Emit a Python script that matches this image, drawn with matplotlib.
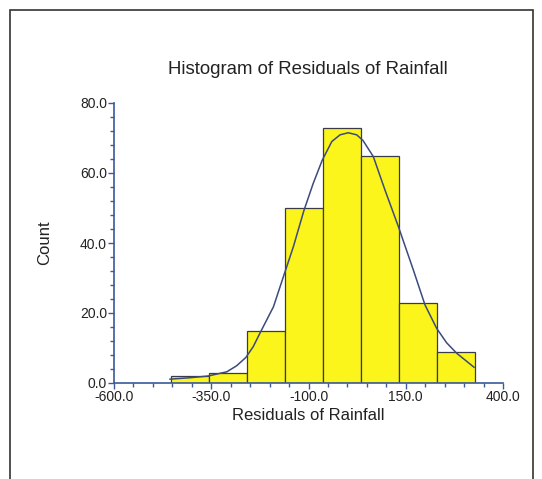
import matplotlib
matplotlib.use("Agg")
import matplotlib.pyplot as plt
from matplotlib.patches import Rectangle
from matplotlib.ticker import MultipleLocator, FormatStrFormatter

plt.rcParams['font.family'] = ['Liberation Sans', 'DejaVu Sans']

# Data
bin_edges = [-453, -355.5, -258, -160.5, -63, 34.5, 132, 229.5, 327]
counts = [2, 3, 15, 50, 73, 65, 23, 9]

curve_x = [-456, -405, -358, -310, -285, -261, -242, -225, -207.5, -190, -163, -139,
           -112, -88, -64.5, -40, -19, 2.3, 24, 40, 66.6, 96.7, 131, 169.5, 199.5,
           229.5, 255, 281, 325.5]
curve_y = [1.1, 1.5, 2.0, 3.2, 4.9, 7.3, 10.4, 14.2, 18.0, 21.8, 30.9, 38.9,
           49.2, 57.0, 63.7, 69.0, 70.9, 71.5, 70.9, 69.3, 64.7, 55.1, 44.7, 32.3, 22.3,
           15.6, 11.5, 8.5, 4.5]

x_ticks = [-600, -350, -100, 150, 400]
y_ticks = [0, 20, 40, 60, 80]

title = "Histogram of Residuals of Rainfall"
xlabel = "Residuals of Rainfall"
ylabel = "Count"

fig = plt.figure(figsize=(5.42, 4.79), dpi=100)
ax = fig.add_axes([114/542, 1-383/479, (503-114)/542, (383-103)/479])

axis_col = '#3b5a9a'
txt_col = '#222222'
widths = [bin_edges[i+1]-bin_edges[i] for i in range(len(counts))]
ax.bar(bin_edges[:-1], counts, width=widths, align='edge', color='#fbf51c',
       edgecolor='#3a3a4a', linewidth=0.9, zorder=2)

ax.plot(curve_x, curve_y, color='#3c4a7c', linewidth=1.1, zorder=3,
        solid_joinstyle='round')

ax.set_xlim(-600, 400)
ax.set_ylim(0, 80)
ax.set_xticks(x_ticks)
ax.set_yticks(y_ticks)
ax.xaxis.set_minor_locator(MultipleLocator(50))
ax.yaxis.set_minor_locator(MultipleLocator(4))
ax.xaxis.set_major_formatter(FormatStrFormatter('%.1f'))
ax.yaxis.set_major_formatter(FormatStrFormatter('%.1f'))

for s in ['top', 'right']:
    ax.spines[s].set_visible(False)
for s in ['left', 'bottom']:
    ax.spines[s].set_color(axis_col)
    ax.spines[s].set_linewidth(1.2)
ax.tick_params(which='both', direction='out', color=axis_col, labelsize=10,
               labelcolor=txt_col)
ax.tick_params(which='major', length=4, width=1)
ax.tick_params(which='minor', length=3, width=1)
ax.tick_params(axis='x', pad=1)
ax.tick_params(axis='y', pad=1)

ax.set_xlabel(xlabel, fontsize=12, color=txt_col, labelpad=3)
ax.set_ylabel(ylabel, fontsize=12, color=txt_col, labelpad=20)
fig.text(308/542, 1-70/479, title, fontsize=13.4, color=txt_col,
         ha='center', va='center')

# outer frame
fig.patches.append(Rectangle((10/542, -0.05), (533-10)/542, 1.05-10/479,
                             transform=fig.transFigure, fill=False,
                             edgecolor='#333333', linewidth=1.2))

fig.savefig('out.png', dpi=100)
